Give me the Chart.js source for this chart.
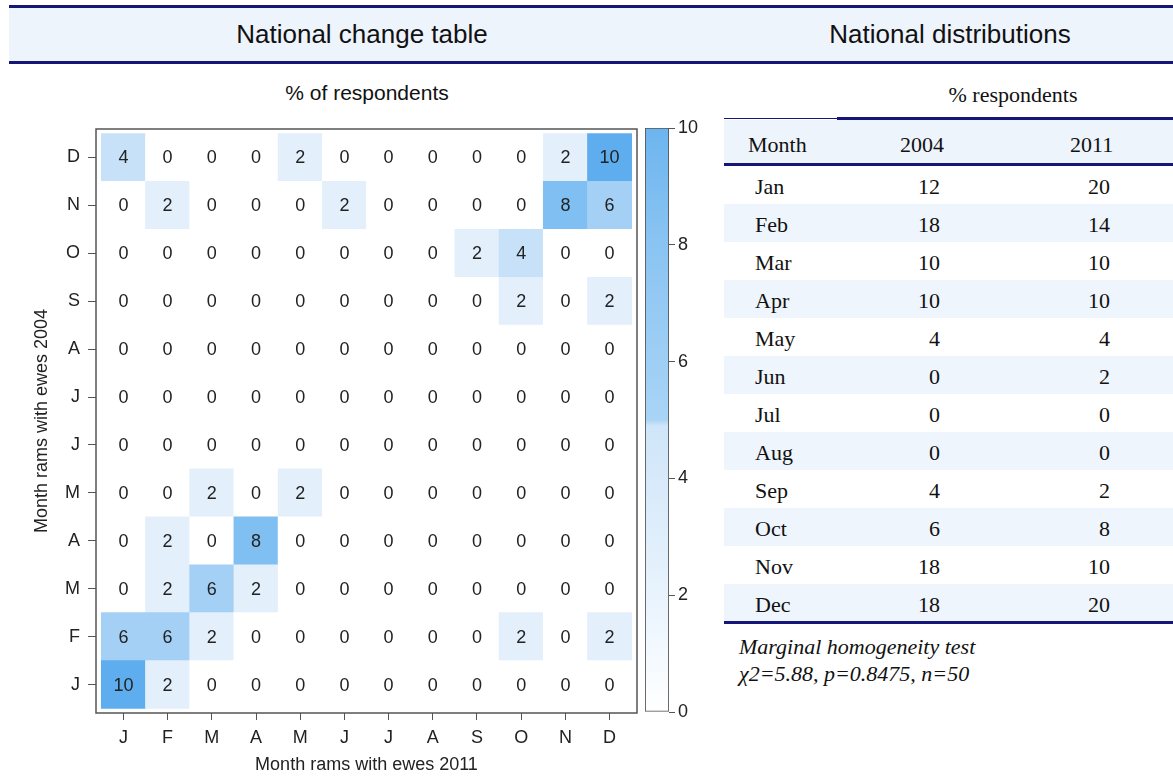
<!DOCTYPE html>
<html><head><meta charset="utf-8">
<script src="https://cdn.jsdelivr.net/npm/chart.js@4.4.1/dist/chart.umd.min.js"></script>
<style>
html,body{margin:0;padding:0;background:#fff;width:1173px;height:784px;overflow:hidden;position:relative;font-family:"Liberation Sans",Arial,sans-serif;color:#111;}
.band{position:absolute;left:9px;width:1164px;top:5px;height:53px;background:#eef4fc;border-top:3px solid #161679;border-bottom:3px solid #161679;}
.ttl{position:absolute;top:8px;height:53px;line-height:53px;text-align:center;font-size:26px;color:#111;white-space:nowrap;}
.sub{position:absolute;text-align:center;white-space:nowrap;}
canvas{position:absolute;top:0;}
.tbl{position:absolute;font-family:"Liberation Serif","Times New Roman",serif;font-size:22px;color:#111;}
.row{position:absolute;left:724px;width:449px;height:38px;line-height:38px;}
.row span{position:absolute;top:2px;white-space:nowrap;}
.cap{position:absolute;left:739px;font-family:"Liberation Serif","Times New Roman",serif;font-style:italic;font-size:22px;white-space:nowrap;color:#111;}
</style></head>
<body>
<div class="band"></div>
<div class="ttl" style="left:9px;width:706px;">National change table</div>
<div class="ttl" style="left:727px;width:446px;">National distributions</div>
<div class="sub" style="left:200px;width:334px;top:80px;height:26px;line-height:26px;font-size:21px;">% of respondents</div>
<canvas id="heat" width="640" height="784" style="left:0;width:640px;height:784px;"></canvas>
<canvas id="cbar" width="80" height="784" style="left:640px;width:80px;height:784px;"></canvas>
<div id="table"></div>
<script>
// ---- data ----
const months2011 = ['J','F','M','A','M','J','J','A','S','O','N','D'];
const months2004 = ['J','F','M','A','M','J','J','A','S','O','N','D']; // bottom (Jan) to top (Dec)
// % of respondents: rows = month 2004, columns = month 2011
const rowJan = [10,2,0,0,0,0,0,0,0,0,0,0];
const rowFeb = [6,6,2,0,0,0,0,0,0,2,0,2];
const rowMar = [0,2,6,2,0,0,0,0,0,0,0,0];
const rowApr = [0,2,0,8,0,0,0,0,0,0,0,0];
const rowMay = [0,0,2,0,2,0,0,0,0,0,0,0];
const rowJun = [0,0,0,0,0,0,0,0,0,0,0,0];
const rowJul = [0,0,0,0,0,0,0,0,0,0,0,0];
const rowAug = [0,0,0,0,0,0,0,0,0,0,0,0];
const rowSep = [0,0,0,0,0,0,0,0,0,2,0,2];
const rowOct = [0,0,0,0,0,0,0,0,2,4,0,0];
const rowNov = [0,2,0,0,0,2,0,0,0,0,8,6];
const rowDec = [4,0,0,0,2,0,0,0,0,0,2,10];
const colorbarTicks = [0,2,4,6,8,10];
const tableMonths = ['Jan','Feb','Mar','Apr','May','Jun','Jul','Aug','Sep','Oct','Nov','Dec'];
const pct2004 = [12,18,10,10,4,0,0,0,4,6,18,18];
const pct2011 = [20,14,10,10,4,2,0,0,2,8,10,20];
const testTitle = 'Marginal homogeneity test';
const testResult = 'χ2=5.88, p=0.8475, n=50';

// ---- styles ----
const FONT = '"Liberation Sans", Arial, sans-serif';
const stops = [[0,[255,255,255]],[2,[227,239,251]],[4,[199,225,248]],[6,[165,208,245]],[8,[128,191,242]],[10,[94,173,238]]];
function cellColor(v){
  for(let i=1;i<stops.length;i++){
    if(v<=stops[i][0]){
      const [a,ca]=stops[i-1],[b,cb]=stops[i];
      const t=(v-a)/(b-a);
      const c=ca.map((x,k)=>Math.round(x+(cb[k]-x)*t));
      return `rgb(${c[0]},${c[1]},${c[2]})`;
    }
  }
  return 'rgb(94,173,238)';
}
const rows = [rowJan,rowFeb,rowMar,rowApr,rowMay,rowJun,rowJul,rowAug,rowSep,rowOct,rowNov,rowDec];
const datasets = rows.map((row,r)=>({
  data: row.map((v,c)=>({x:c, y:[r-0.5, r+0.5], v})),
  backgroundColor: row.map(v=>cellColor(v)),
  borderWidth:0,
  barPercentage:1, categoryPercentage:1, grouped:false
}));

const xTicks = s => { s.ticks = months2011.map((_,i)=>({value:i})); };
const yTicks = s => { s.ticks = months2004.map((_,i)=>({value:i})); };

const cellText = {
  id:'cellText',
  afterDatasetsDraw(chart){
    const ctx=chart.ctx;
    ctx.save();
    ctx.font='18px '+FONT; ctx.fillStyle='#222'; ctx.textAlign='center'; ctx.textBaseline='middle';
    chart.data.datasets.forEach((ds,i)=>{
      chart.getDatasetMeta(i).data.forEach((el,j)=>{
        const p=el.getProps(['x','y','base'],true);
        ctx.fillText(String(ds.data[j].v), p.x, (p.y+p.base)/2+1);
      });
    });
    ctx.restore();
  }
};
const boxBorder = {
  id:'boxBorder',
  afterDraw(chart){
    const {ctx,chartArea:a}=chart;
    ctx.save(); ctx.strokeStyle='#555'; ctx.lineWidth=1.5;
    ctx.strokeRect(a.left,a.top,a.right-a.left,a.bottom-a.top);
    ctx.restore();
  }
};

new Chart(document.getElementById('heat'),{
  type:'bar',
  data:{datasets},
  options:{
    responsive:false, animation:false,
    layout:{padding:{top:129,right:3,bottom:0,left:0}},
    plugins:{legend:{display:false},tooltip:{enabled:false}},
    scales:{
      x:{type:'linear',min:-0.62,max:11.62,offset:false,
        afterBuildTicks:xTicks,
        afterFit:s=>{s.height=71;},
        ticks:{autoSkip:false,maxRotation:0,padding:7,color:'#222',font:{size:18,family:FONT},
          callback:v=>months2011[Math.round(v)]},
        grid:{offset:false,drawOnChartArea:false,tickLength:7,color:'#555',lineWidth:1},
        border:{display:false},
        title:{display:true,text:'Month rams with ewes 2011',color:'#222',font:{size:18,family:FONT},padding:{top:0,bottom:8}}
      },
      y:{type:'linear',min:-0.594,max:11.594,
        afterBuildTicks:yTicks,
        afterFit:s=>{s.width=96;},
        ticks:{autoSkip:false,padding:8,color:'#222',font:{size:18,family:FONT},
          callback:v=>months2004[Math.round(v)]},
        grid:{drawOnChartArea:false,tickLength:8,color:'#555',lineWidth:1},
        border:{display:false},
        title:{display:true,text:'Month rams with ewes 2004',color:'#222',font:{size:18,family:FONT},padding:{top:31,bottom:0}}
      }
    }
  },
  plugins:[cellText,boxBorder]
});

new Chart(document.getElementById('cbar'),{
  type:'bar',
  data:{labels:[''],datasets:[{
    data:[[0,10]],
    borderWidth:1.2,borderColor:'#555',borderSkipped:false,
    barPercentage:1,categoryPercentage:1,
    backgroundColor:(c)=>{
      const ch=c.chart, ys=ch.scales.y;
      if(!ys) return '#a9d4f6';
      const y0=ys.getPixelForValue(0), y1=ys.getPixelForValue(10);
      if(!isFinite(y0)||!isFinite(y1)||y0===y1) return '#a9d4f6';
      const g=ch.ctx.createLinearGradient(0,y0,0,y1);
      g.addColorStop(0,'#ffffff'); g.addColorStop(0.2,'#e8f3fd'); g.addColorStop(0.49,'#cfe5f9');
      g.addColorStop(0.5,'#a9d4f6'); g.addColorStop(0.8,'#8ac4f2'); g.addColorStop(1,'#6db5ef');
      return g;
    }
  }]},
  options:{
    responsive:false, animation:false,
    layout:{padding:{top:128,right:0,bottom:72,left:5}},
    plugins:{legend:{display:false},tooltip:{enabled:false}},
    scales:{
      x:{display:false},
      y:{position:'right',min:0,max:10,
        afterBuildTicks:s=>{s.ticks=colorbarTicks.map(v=>({value:v}));},
        afterFit:s=>{s.width=51;},
        ticks:{padding:3,color:'#222',font:{size:18,family:FONT}},
        grid:{drawOnChartArea:false,tickLength:6,color:'#555'},
        border:{display:false}
      }
    }
  }
});

// ---- table ----
(function(){
  const host=document.getElementById('table');
  let h='';
  h+='<div class="tbl" style="left:837px;width:352px;top:80px;height:30px;line-height:30px;text-align:center;">% respondents</div>';
  h+='<div style="position:absolute;left:724px;width:113px;top:118px;height:1px;background:#161679;"></div>';
  h+='<div style="position:absolute;left:837px;width:336px;top:117px;height:3px;background:#161679;"></div>';
  h+='<div style="position:absolute;left:724px;width:449px;top:120px;height:43px;background:#eef4fc;"></div>';
  h+='<div style="position:absolute;left:724px;width:449px;top:163px;height:3px;background:#161679;"></div>';
  h+='<div class="tbl row" style="top:125px;height:40px;line-height:40px;"><span style="left:24px;top:0">Month</span><span style="left:176px;top:0">2004</span><span style="left:346px;top:0">2011</span></div>';
  tableMonths.forEach((m,i)=>{
    const top=166+i*38;
    const bg=(i%2===1)?'background:#eef5fd;':'';
    h+=`<div class="tbl row" style="top:${top}px;${bg}"><span style="left:31px">${m}</span><span style="right:233px">${pct2004[i]}</span><span style="right:63px">${pct2011[i]}</span></div>`;
  });
  h+='<div style="position:absolute;left:724px;width:449px;top:621px;height:3px;background:#161679;"></div>';
  h+=`<div class="cap" style="top:634px;height:26px;line-height:26px;">${testTitle}</div>`;
  h+=`<div class="cap" style="top:661px;height:26px;line-height:26px;">${testResult}</div>`;
  host.innerHTML=h;
})();
</script>
</body></html>
